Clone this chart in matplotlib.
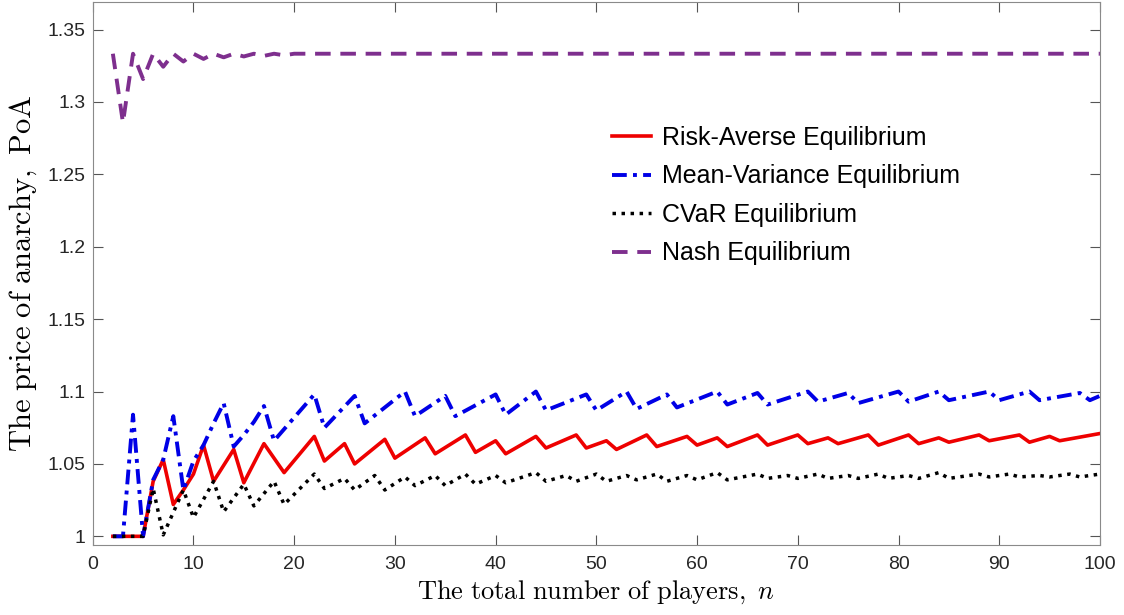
import matplotlib.pyplot as plt

plt.rcParams['mathtext.fontset'] = 'cm'

# vertices of each curve (n, PoA)
n_ra = [2, 5, 6, 7, 8, 9, 10, 11, 12, 14, 15, 17, 19, 22, 23, 25, 26, 29, 30, 33, 34, 37, 38,
        40, 41, 44, 45, 48, 49, 51, 52, 55, 56, 59, 60, 62, 63, 66, 67, 70, 71, 73, 74, 77, 78,
        81, 82, 84, 85, 88, 89, 92, 93, 95, 96, 100]
poa_ra = [1.0, 1.0, 1.038, 1.053, 1.022, 1.032, 1.043, 1.063, 1.038, 1.060, 1.037, 1.064, 1.044,
          1.069, 1.052, 1.064, 1.050, 1.067, 1.054, 1.068, 1.057, 1.070, 1.058, 1.066, 1.057,
          1.069, 1.061, 1.070, 1.061, 1.066, 1.060, 1.070, 1.062, 1.069, 1.063, 1.068, 1.062,
          1.070, 1.063, 1.070, 1.064, 1.068, 1.064, 1.070, 1.063, 1.070, 1.064, 1.068, 1.065,
          1.070, 1.066, 1.070, 1.065, 1.069, 1.066, 1.071]

n_mv = [2, 3, 4, 5, 6, 7, 8, 9, 10, 11, 12, 13, 14, 15, 16, 17, 18, 19, 20, 21, 22, 23, 26, 27,
        31, 32, 35, 36, 40, 41, 44, 45, 49, 50, 53, 54, 57, 58, 62, 63, 66, 67, 71, 72, 75, 76,
        80, 81, 84, 85, 89, 90, 93, 94, 98, 99, 100]
poa_mv = [1.0, 1.0, 1.084, 1.0, 1.039, 1.053, 1.083, 1.032, 1.052, 1.063, 1.078, 1.092, 1.062,
          1.070, 1.079, 1.090, 1.066, 1.074, 1.082, 1.090, 1.098, 1.075, 1.097, 1.078, 1.100,
          1.083, 1.097, 1.083, 1.098, 1.084, 1.100, 1.087, 1.098, 1.087, 1.100, 1.088, 1.098,
          1.089, 1.100, 1.091, 1.099, 1.091, 1.100, 1.093, 1.099, 1.092, 1.100, 1.093, 1.100,
          1.094, 1.100, 1.094, 1.100, 1.094, 1.099, 1.094, 1.097]

n_cvar = [2, 5, 6, 7, 9, 10, 12, 13, 15, 16, 18, 19, 22, 23, 25, 26, 28, 29, 31, 32, 34, 35,
          37, 38, 40, 41, 44, 45, 47, 48, 50, 51, 53, 54, 56, 57, 59, 60, 62, 63, 66, 67, 69,
          70, 72, 73, 75, 76, 78, 79, 81, 82, 84, 85, 88, 89, 91, 92, 94, 95, 97, 98, 100]
poa_cvar = [1.0, 1.0, 1.033, 1.001, 1.032, 1.013, 1.038, 1.017, 1.036, 1.021, 1.038, 1.022,
            1.043, 1.033, 1.040, 1.032, 1.042, 1.032, 1.041, 1.035, 1.042, 1.035, 1.043, 1.036,
            1.042, 1.037, 1.044, 1.038, 1.042, 1.038, 1.043, 1.038, 1.042, 1.039, 1.043, 1.038,
            1.042, 1.039, 1.044, 1.039, 1.043, 1.040, 1.042, 1.040, 1.043, 1.040, 1.042, 1.040,
            1.043, 1.040, 1.042, 1.040, 1.044, 1.040, 1.043, 1.041, 1.043, 1.041, 1.042, 1.041,
            1.043, 1.041, 1.043]

n_nash = [2, 3, 4, 5, 6, 7, 8, 9, 10, 11, 12, 13, 14, 15, 16, 17, 18, 19, 20, 100]
poa_nash = [1.3333, 1.2857, 1.3333, 1.3158, 1.3333, 1.3243, 1.3333, 1.3279, 1.3333, 1.3297,
            1.3333, 1.3308, 1.3333, 1.3314, 1.3333, 1.3318, 1.3333, 1.3322, 1.3333, 1.3333]

fig = plt.figure(figsize=(11.24, 6.15), dpi=100)
ax = fig.add_axes([0.0825, 0.1138, 0.8961, 0.8829])

ax.plot(n_ra, poa_ra, color='#ee0000', linewidth=2.6, label='Risk-Averse Equilibrium')
ax.plot(n_mv, poa_mv, color='#0000e6', linewidth=2.8, dashes=(3.8, 1.6, 1.0, 1.6),
        label='Mean-Variance Equilibrium')
ax.plot(n_cvar, poa_cvar, color='black', linewidth=2.5, linestyle=(0, (1.0, 1.6)),
        label='CVaR Equilibrium')
ax.plot(n_nash, poa_nash, color='#7e2f8e', linewidth=2.8, dashes=(4, 2.5),
        label='Nash Equilibrium')

ax.set_xlim(0, 100)
ax.set_xticks(range(0, 101, 10))
ax.set_ylim(0.994, 1.369)
ax.set_yticks([1, 1.05, 1.1, 1.15, 1.2, 1.25, 1.3, 1.35])
ax.set_yticklabels(['1', '1.05', '1.1', '1.15', '1.2', '1.25', '1.3', '1.35'])

for side in ax.spines.values():
    side.set_color('#8a8a8a')
ax.tick_params(direction='in', length=7, width=0.8, color='#555555', top=True, right=True,
               labelsize=14, labelcolor='#262626')
ax.tick_params(axis='y', pad=5)
ax.tick_params(axis='x', pad=8)
for lab in ax.get_xticklabels() + ax.get_yticklabels():
    lab.set_family('Liberation Sans')

ax.set_xlabel(r'$\mathrm{The\ total\ number\ of\ players,}\ n$', fontsize=19, labelpad=4)
ax.set_ylabel(r'$\mathrm{The\ price\ of\ anarchy,\ PoA}$', fontsize=22, labelpad=6)

ax.legend(loc='upper left', bbox_to_anchor=(0.5155, 0.772), frameon=False, borderpad=0,
          borderaxespad=0, handlelength=1.55, handletextpad=0.45, labelspacing=0.58,
          prop={'family': 'Liberation Sans', 'size': 18})

fig.savefig('out.png', dpi=100)
